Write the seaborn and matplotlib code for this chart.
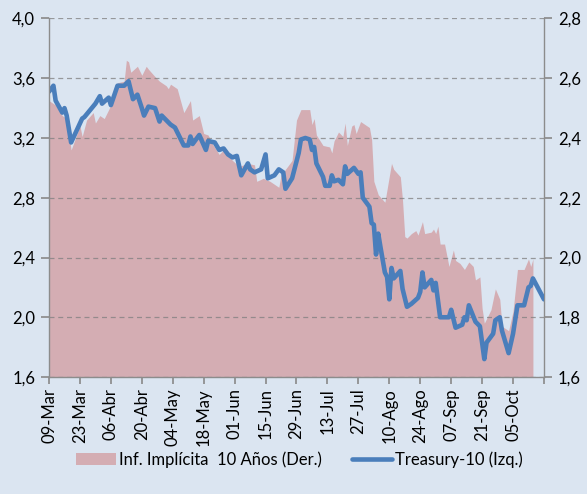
import pandas as pd
import numpy as np
import matplotlib
matplotlib.use("Agg")
import matplotlib.pyplot as plt
from matplotlib.patches import Patch
from matplotlib.lines import Line2D
import seaborn as sns

# datos (2009)
tsy_fechas = ["03-09", "03-11", "03-12", "03-15", "03-16", "03-17", "03-19", "03-24", "03-25", "03-30",
              "04-01", "04-02", "04-05", "04-06", "04-09", "04-12", "04-14", "04-16", "04-18", "04-20",
              "04-21", "04-23", "04-26", "04-28", "04-29", "05-03", "05-05", "05-07", "05-09", "05-11",
              "05-12", "05-13", "05-16", "05-19", "05-20", "05-23", "05-25", "05-27", "05-29", "05-31",
              "06-02", "06-04", "06-07", "06-08", "06-10", "06-13", "06-15", "06-16", "06-19", "06-21",
              "06-23", "06-24", "06-27", "06-30", "07-01", "07-03", "07-05", "07-06", "07-07", "07-08",
              "07-11", "07-12", "07-14", "07-15", "07-16", "07-18", "07-20", "07-21", "07-22", "07-25",
              "07-26", "07-27", "07-28", "07-29", "08-01", "08-02", "08-03", "08-04", "08-05", "08-06",
              "08-08", "08-09", "08-10", "08-11", "08-12", "08-15", "08-16", "08-18", "08-20", "08-23",
              "08-24", "08-25", "08-26", "08-29", "08-30", "08-31", "09-02", "09-06", "09-07", "09-09",
              "09-12", "09-13", "09-14", "09-15", "09-18", "09-20", "09-22", "09-23", "09-26", "09-27",
              "09-29", "09-30", "10-03", "10-05", "10-07", "10-10", "10-12", "10-13", "10-14", "10-19"]
tsy_valores = [3.51, 3.55, 3.45, 3.37, 3.40, 3.35, 3.17, 3.33, 3.34, 3.43,
               3.48, 3.43, 3.47, 3.42, 3.55, 3.55, 3.58, 3.46, 3.49, 3.40,
               3.35, 3.41, 3.40, 3.31, 3.35, 3.29, 3.27, 3.21, 3.15, 3.15,
               3.21, 3.16, 3.22, 3.12, 3.18, 3.17, 3.12, 3.13, 3.09, 3.07,
               3.08, 2.95, 3.03, 2.99, 2.97, 2.99, 3.09, 2.93, 2.95, 2.99,
               2.97, 2.86, 2.93, 3.10, 3.19, 3.20, 3.19, 3.12, 3.14, 3.03,
               2.94, 2.88, 2.88, 2.95, 2.91, 2.92, 2.89, 3.01, 2.96, 3.00,
               2.98, 2.96, 2.97, 2.80, 2.74, 2.63, 2.62, 2.42, 2.56, 2.47,
               2.30, 2.27, 2.12, 2.33, 2.26, 2.31, 2.19, 2.07, 2.09, 2.13,
               2.17, 2.30, 2.20, 2.25, 2.18, 2.23, 2.00, 2.00, 2.05, 1.93,
               1.95, 2.00, 1.98, 2.08, 1.97, 1.94, 1.72, 1.83, 1.89, 1.98,
               2.00, 1.91, 1.76, 1.89, 2.08, 2.08, 2.20, 2.21, 2.26, 2.12]

inf_fechas = ["03-09", "03-12", "03-15", "03-17", "03-19", "03-23", "03-24", "03-26", "03-29", "03-30",
              "04-01", "04-03", "04-07", "04-09", "04-12", "04-13", "04-14", "04-15", "04-18", "04-20",
              "04-22", "04-23", "04-26", "04-28", "05-01", "05-02", "05-03", "05-06", "05-09", "05-12",
              "05-13", "05-16", "05-18", "05-20", "05-22", "05-25", "05-27", "05-31", "06-03", "06-07",
              "06-10", "06-11", "06-14", "06-17", "06-21", "06-22", "06-24", "06-27", "06-29", "07-01",
              "07-05", "07-06", "07-07", "07-08", "07-11", "07-14", "07-15", "07-16", "07-18", "07-20",
              "07-21", "07-22", "07-24", "07-25", "07-26", "07-28", "08-01", "08-02", "08-03", "08-05",
              "08-08", "08-11", "08-12", "08-15", "08-16", "08-17", "08-18", "08-20", "08-22", "08-23",
              "08-25", "08-26", "08-29", "08-30", "08-31", "09-01", "09-02", "09-04", "09-06", "09-08",
              "09-09", "09-11", "09-13", "09-15", "09-17", "09-18", "09-20", "09-21", "09-22", "09-23",
              "09-25", "09-27", "09-29", "09-30", "10-03", "10-05", "10-07", "10-10", "10-12", "10-13",
              "10-14"]
inf_valores = [2.525, 2.51, 2.475, 2.465, 2.36, 2.44, 2.405, 2.46, 2.485, 2.45,
               2.475, 2.465, 2.525, 2.585, 2.59, 2.66, 2.655, 2.62, 2.64, 2.61,
               2.64, 2.63, 2.605, 2.59, 2.575, 2.565, 2.58, 2.565, 2.485, 2.525,
               2.46, 2.475, 2.415, 2.41, 2.38, 2.345, 2.36, 2.325, 2.305, 2.315,
               2.31, 2.255, 2.265, 2.255, 2.235, 2.275, 2.295, 2.325, 2.46, 2.495,
               2.495, 2.445, 2.465, 2.41, 2.375, 2.37, 2.35, 2.39, 2.42, 2.405,
               2.45, 2.375, 2.44, 2.445, 2.415, 2.455, 2.435, 2.395, 2.255, 2.21,
               2.185, 2.315, 2.295, 2.27, 2.19, 2.07, 2.065, 2.08, 2.09, 2.075,
               2.12, 2.08, 2.085, 2.095, 2.08, 2.105, 2.045, 2.045, 1.97, 2.025,
               1.99, 1.98, 1.96, 1.985, 1.97, 1.925, 1.935, 1.83, 1.78, 1.795,
               1.825, 1.895, 1.86, 1.77, 1.755, 1.82, 1.96, 1.96, 1.995, 1.97,
               1.995]

etiquetas_x = ["09-Mar", "23-Mar", "06-Abr", "20-Abr", "04-May", "18-May", "01-Jun", "15-Jun",
               "29-Jun", "13-Jul", "27-Jul", "10-Ago", "24-Ago", "07-Sep", "21-Sep", "05-Oct"]

df_tsy = pd.DataFrame({"fecha": pd.to_datetime(["2009-" + f for f in tsy_fechas]), "valor": tsy_valores})
df_inf = pd.DataFrame({"fecha": pd.to_datetime(["2009-" + f for f in inf_fechas]), "valor": inf_valores})

fondo = "#dbe5f1"
rosa = "#d4adb3"
azul = "#4a7ebb"

sns.set_theme(style="white")
plt.rcParams['font.family'] = ['Lato', 'DejaVu Sans']
plt.rcParams['text.color'] = 'black'
plt.rcParams['xtick.labelcolor'] = 'black'
plt.rcParams['ytick.labelcolor'] = 'black'

fig = plt.figure(figsize=(5.87, 4.94), dpi=100, facecolor=fondo)
ax = fig.add_axes([0.0835, 0.2368, 0.8432, 0.7258])
ax2 = ax.twinx()

# área (eje derecho)
ax2.fill_between(df_inf["fecha"], df_inf["valor"], 1.6, color=rosa, linewidth=0)
ax2.set_ylim(1.6, 2.8)
ax2.set_yticks(np.arange(1.6, 2.81, 0.2))
ax2.set_yticklabels([f"{v:.1f}".replace(".", ",") for v in np.arange(1.6, 2.81, 0.2)])

# línea (eje izquierdo)
ax.set_zorder(ax2.get_zorder() + 1)
ax.patch.set_visible(False)
ax2.patch.set_visible(False)
sns.lineplot(data=df_tsy, x="fecha", y="valor", ax=ax, color=azul, linewidth=3.3)
ax.set_ylim(1.6, 4.0)
ax.set_yticks(np.arange(1.6, 4.01, 0.4))
ax.set_yticklabels([f"{v:.1f}".replace(".", ",") for v in np.arange(1.6, 4.01, 0.4)])
ax.set_xlabel("")
ax.set_ylabel("")

inicio = pd.Timestamp("2009-03-09")
fin = pd.Timestamp("2009-10-19")
ax.set_xlim(inicio, fin)
ticks = [inicio + pd.Timedelta(days=14 * i) for i in range(len(etiquetas_x))]
ax.set_xticks(ticks + [fin])
ax.set_xticklabels(etiquetas_x + [""], rotation=90)

ax.grid(axis="y", color="#7f7f7f", linestyle=(0, (4, 3)), linewidth=0.9, alpha=0.75)
ax.grid(axis="x", visible=False)
ax2.grid(False)

for a in (ax, ax2):
    for s in a.spines.values():
        s.set_visible(False)
ax.spines["left"].set_visible(True)
ax.spines["bottom"].set_visible(True)
ax2.spines["right"].set_visible(True)
for s in (ax.spines["left"], ax.spines["bottom"], ax2.spines["right"]):
    s.set_color("#8c8c8c")
    s.set_linewidth(1.0)

ax.tick_params(axis="y", direction="out", length=6, color="#8c8c8c", left=True, labelsize=12, pad=4)
ax.tick_params(axis="x", direction="out", length=5, color="#8c8c8c", bottom=True, labelsize=12, pad=3)
ax2.tick_params(axis="y", direction="out", length=6, color="#8c8c8c", right=True, labelsize=12, pad=4)

manijas = [Patch(facecolor=rosa, edgecolor="none"),
           Line2D([0], [0], color=azul, linewidth=3.3)]
fig.legend(manijas, ["Inf. Implícita  10 Años (Der.)", "Treasury-10 (Izq.)"],
           loc="center", bbox_to_anchor=(0.51, 0.07), ncol=2, frameon=False,
           fontsize=12, handlelength=2.4, handletextpad=0.2, columnspacing=1.8)

fig.savefig("out.png", dpi=100, facecolor=fondo)
